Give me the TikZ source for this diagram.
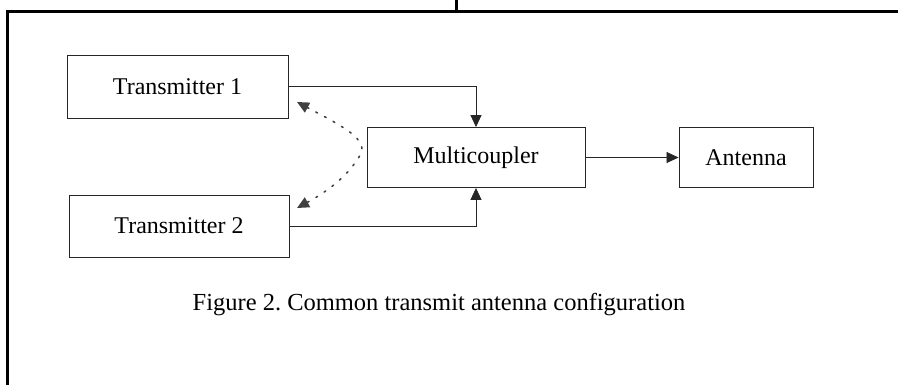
\documentclass[tikz,border=0pt]{standalone}
\usepackage{fontspec}
\setmainfont{Liberation Serif}
\usetikzlibrary{arrows.meta}

\tikzset{
  unit/.style={draw=black!85, line width=0.9pt, inner sep=0pt, font=\fontsize{24}{28}\selectfont},
  link/.style={draw=black!85, line width=0.8pt, -{Triangle[length=12pt, width=11pt]}},
  swap/.style={draw=black!75, line width=1.6pt, line cap=round, dash pattern=on 1.8pt off 8pt,
    {Triangle[length=12pt, width=11pt]}-{Triangle[length=12pt, width=11pt]}},
  frame/.style={draw=black, line width=3pt}
}

\begin{document}
\begin{tikzpicture}[x=1pt, y=-1pt]
\useasboundingbox (0,0) rectangle (898,384);
% outer frame
\draw[frame] (7,385) -- (7,11) -- (899,11);
\draw[frame] (456,-1) -- (456,11);
% blocks
\node[unit, minimum width=221pt, minimum height=63pt] (tx1) at (177.5,86.5) {Transmitter 1};
\node[unit, minimum width=220pt, minimum height=62pt] (tx2) at (179,226) {Transmitter 2};
\node[unit, minimum width=218pt, minimum height=60pt] (mc) at (476,157.5) {Multicoupler};
\node[unit, minimum width=134pt, minimum height=60pt] (ant) at (746,157.5) {Antenna};
% connections
\draw[link] (tx1.east) -| (mc.north);
\draw[link] (tx2.east) -| (mc.south);
\draw[link] (mc.east) -- (ant.west);
% switch-over
\coordinate (up) at (297,102);
\coordinate (dn) at (297,208);
\draw[swap] (up) .. controls (340,125) and (372,140) .. (359,157)
  .. controls (348,175) and (330,190) .. (dn);
% caption
\node[font=\fontsize{24.5}{28}\selectfont] (cap) at (439,305) {Figure 2.\ Common transmit antenna configuration};
\end{tikzpicture}
\end{document}
